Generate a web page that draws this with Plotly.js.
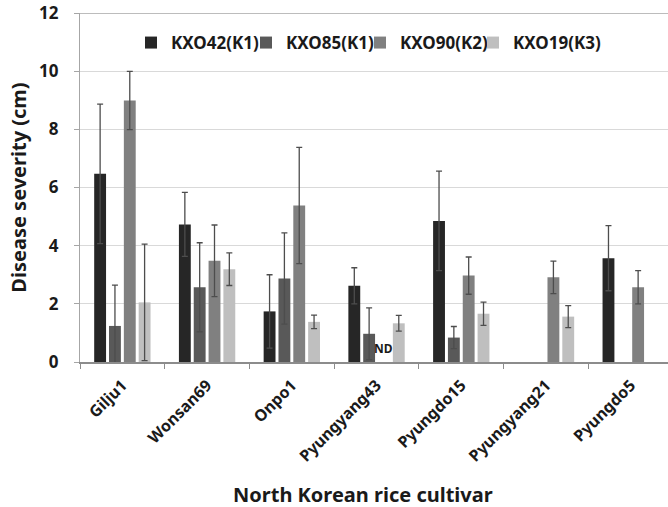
<!DOCTYPE html>
<html><head><meta charset="utf-8">
<script src="https://cdn.plot.ly/plotly-3.0.1.min.js"></script>
<style>body{margin:0}#c{width:668px;height:507px}</style>
</head><body><div id="c"></div>
<script>
const cultivars = ['Gilju1','Wonsan69','Onpo1','Pyungyang43','Pyungdo15','Pyungyang21','Pyungdo5'];
const seriesNames = ['KXO42(K1)','KXO85(K1)','KXO90(K2)','KXO19(K3)'];
const kxo42 = [6.47, 4.73, 1.74, 2.62, 4.85, null, 3.57];
const kxo42Err = [2.4, 1.1, 1.26, 0.62, 1.71, null, 1.12];
const kxo85 = [1.24, 2.57, 2.87, 0.97, 0.84, null, null];
const kxo85Err = [1.4, 1.53, 1.57, 0.89, 0.38, null, null];
const kxo90 = [8.99, 3.48, 5.38, null, 2.97, 2.91, 2.57];
const kxo90Err = [1.0, 1.23, 2.0, null, 0.64, 0.56, 0.57];
const kxo19 = [2.05, 3.19, 1.38, 1.33, 1.66, 1.56, null];
const kxo19Err = [2.0, 0.56, 0.23, 0.27, 0.4, 0.38, null];
const yTicks = [0, 2, 4, 6, 8, 10, 12];

const colors = ['#262626', '#595959', '#808080', '#bfbfbf'];
const vals = [kxo42, kxo85, kxo90, kxo19];
const errs = [kxo42Err, kxo85Err, kxo90Err, kxo19Err];
const FONT = 'Noto Sans, Open Sans, sans-serif';
const TXT = '#1a1a1a';
const legendIds = ['legend', 'legend2', 'legend3', 'legend4'];
const legendX = [0.0867, 0.2823, 0.4762, 0.6684];

const traces = seriesNames.map((n, i) => ({
  type: 'bar', name: n, x: cultivars, y: vals[i], legend: legendIds[i],
  marker: {color: colors[i], line: {width: 0}},
  error_y: {type: 'data', array: errs[i], visible: true, color: '#4d4d4d', thickness: 1.3, width: 3}
}));

const layout = {
  width: 668, height: 507,
  margin: {l: 80, r: 0, t: 13, b: 145},
  paper_bgcolor: '#fff', plot_bgcolor: '#fff',
  barmode: 'group', bargap: 0.3, bargroupgap: 0.2,
  font: {family: FONT, color: TXT},
  showlegend: true,
  xaxis: {type: 'category', range: [-0.5, 6.44], tickangle: -45,
    ticks: 'outside', tickson: 'boundaries', ticklen: 5, tickcolor: '#8c8c8c',
    ticklabelstandoff: 6,
    showline: true, linecolor: '#8c8c8c', linewidth: 1.5, showgrid: false,
    tickfont: {size: 16, family: FONT, weight: 'bold', color: TXT}},
  yaxis: {range: [0, 12], tickvals: yTicks, ticktext: yTicks.map(String),
    showgrid: true, gridcolor: '#d9d9d9', gridwidth: 1.3, zeroline: false,
    showline: true, linecolor: '#a6a6a6', linewidth: 1.3,
    ticks: 'outside', ticklen: 5, tickcolor: '#a6a6a6', ticklabelstandoff: 12,
    tickfont: {size: 17, family: FONT, weight: 'bold', color: TXT}},
  annotations: [
    {x: 'Pyungyang43', xref: 'x', xshift: 7, y: 0, yref: 'y', yshift: 3, yanchor: 'bottom',
     text: 'ND', showarrow: false, font: {size: 12, family: FONT, weight: 'bold', color: TXT}},
    {x: (363 - 80) / 588, xref: 'paper', y: (362 - 494) / 349, yref: 'paper', yanchor: 'middle',
     text: 'North Korean rice cultivar',
     showarrow: false, font: {size: 20, family: FONT, weight: 'bold', color: TXT}}
  ],
  shapes: [
    {type: 'line', xref: 'paper', yref: 'y', x0: 0, x1: 1, y0: 12, y1: 12, line: {color: '#a6a6a6', width: 1.5}}
  ]
};
layout.yaxis.title = {text: 'Disease severity (cm)', standoff: 6,
  font: {size: 20, family: FONT, weight: 'bold', color: TXT}};
legendIds.forEach((id, i) => {
  layout[id] = {orientation: 'h', x: legendX[i], xanchor: 'left', y: 0.914, yanchor: 'middle',
    font: {size: 17, family: FONT, weight: 'bold', color: TXT}, bgcolor: 'rgba(0,0,0,0)'};
});
Plotly.newPlot('c', traces, layout, {displayModeBar: false});
</script></body></html>
